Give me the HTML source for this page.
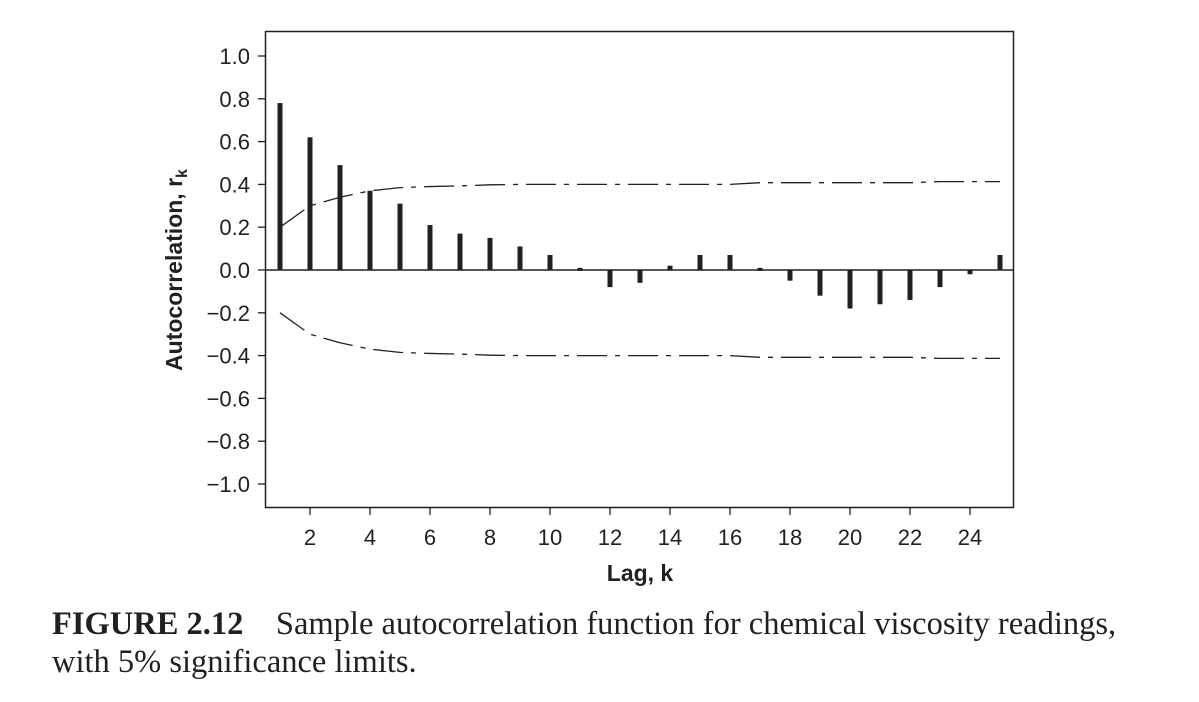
<!DOCTYPE html>
<html><head><meta charset="utf-8"><style>
body{margin:0;background:#fff;width:1199px;height:702px;overflow:hidden}
svg text{font-family:"Liberation Sans",sans-serif;fill:#231f20}
.cap{position:absolute;left:52px;top:605px;font-family:"Liberation Serif",serif;font-size:32.5px;color:#231f20;line-height:38px;white-space:nowrap}
</style></head><body>
<svg width="1199" height="702" style="position:absolute;left:0;top:0">
<g id="g"></g>
</svg>
<div class="cap"><b>FIGURE 2.12</b>&nbsp;&nbsp;&nbsp; Sample autocorrelation function for chemical viscosity readings,<br>with 5% significance limits.</div>
<script>
const lags=[1,2,3,4,5,6,7,8,9,10,11,12,13,14,15,16,17,18,19,20,21,22,23,24,25];
const acf=[0.78,0.62,0.49,0.37,0.31,0.21,0.17,0.15,0.11,0.07,0.01,-0.08,-0.06,0.02,0.07,0.07,0.01,-0.05,-0.12,-0.18,-0.16,-0.14,-0.08,-0.02,0.07];
const limits=[0.2,0.3,0.34,0.37,0.385,0.39,0.393,0.398,0.4,0.4,0.4,0.4,0.4,0.4,0.4,0.4,0.408,0.408,0.408,0.408,0.408,0.408,0.413,0.413,0.413];
const yTicks=[1.0,0.8,0.6,0.4,0.2,0.0,-0.2,-0.4,-0.6,-0.8,-1.0];
const xTicks=[2,4,6,8,10,12,14,16,18,20,22,24];
const NS='http://www.w3.org/2000/svg';
const X=k=>280+(k-1)*30, Y=v=>270-v*214;
const g=document.getElementById('g');
function mk(t,a){const e=document.createElementNS(NS,t);for(const k in a)e.setAttribute(k,a[k]);g.appendChild(e);return e;}
let e=mk('rect',{x:265.5,y:31.5,width:748,height:476,fill:'none',stroke:'#231f20','stroke-width':1.5});


e=mk('line',{x1:265,x2:1014,y1:Y(0),y2:Y(0),stroke:'#231f20','stroke-width':1.5});


yTicks.forEach(v=>{
 let t=mk('line',{x1:258,x2:265,y1:Y(v),y2:Y(v),stroke:'#231f20','stroke-width':1.3});
 
 
 let l=mk('text',{x:250,y:Y(v)+8,'text-anchor':'end','font-size':22});
 l.textContent=(v<0?'\u2212':'')+Math.abs(v).toFixed(1);
 
 
});
xTicks.forEach(k=>{
 let t=mk('line',{x1:X(k),x2:X(k),y1:508,y2:515,stroke:'#231f20','stroke-width':1.3});
 
 
 let l=mk('text',{x:X(k),y:545,'text-anchor':'middle','font-size':22});
 l.textContent=k;
 
 
});
acf.forEach((v,i)=>{
 const y0=Y(0),y1=Y(v);
 let b=mk('rect',{x:X(lags[i])-2.5,y:Math.min(y0,y1),width:5,height:Math.max(Math.abs(y1-y0),3),fill:'#231f20'});
 
 
});
[1,-1].forEach(s=>{
 const d=lags.map((k,i)=>(i?'L':'M')+X(k)+' '+Y(s*limits[i])).join(' ');
 let p=mk('path',{d:d,fill:'none',stroke:'#231f20','stroke-width':1.3,'stroke-dasharray':'30 8 5 8'});
 
 
});
let xt=mk('text',{x:640,y:581,'text-anchor':'middle','font-size':23,'font-weight':'bold'});
xt.textContent='Lag, k';


let yt=mk('text',{x:0,y:0,'text-anchor':'middle','font-size':23,'font-weight':'bold',transform:'translate(182,270) rotate(-90)'});
yt.innerHTML='Autocorrelation, r<tspan font-size="16" dy="5">k</tspan>';


</script>
</body></html>
